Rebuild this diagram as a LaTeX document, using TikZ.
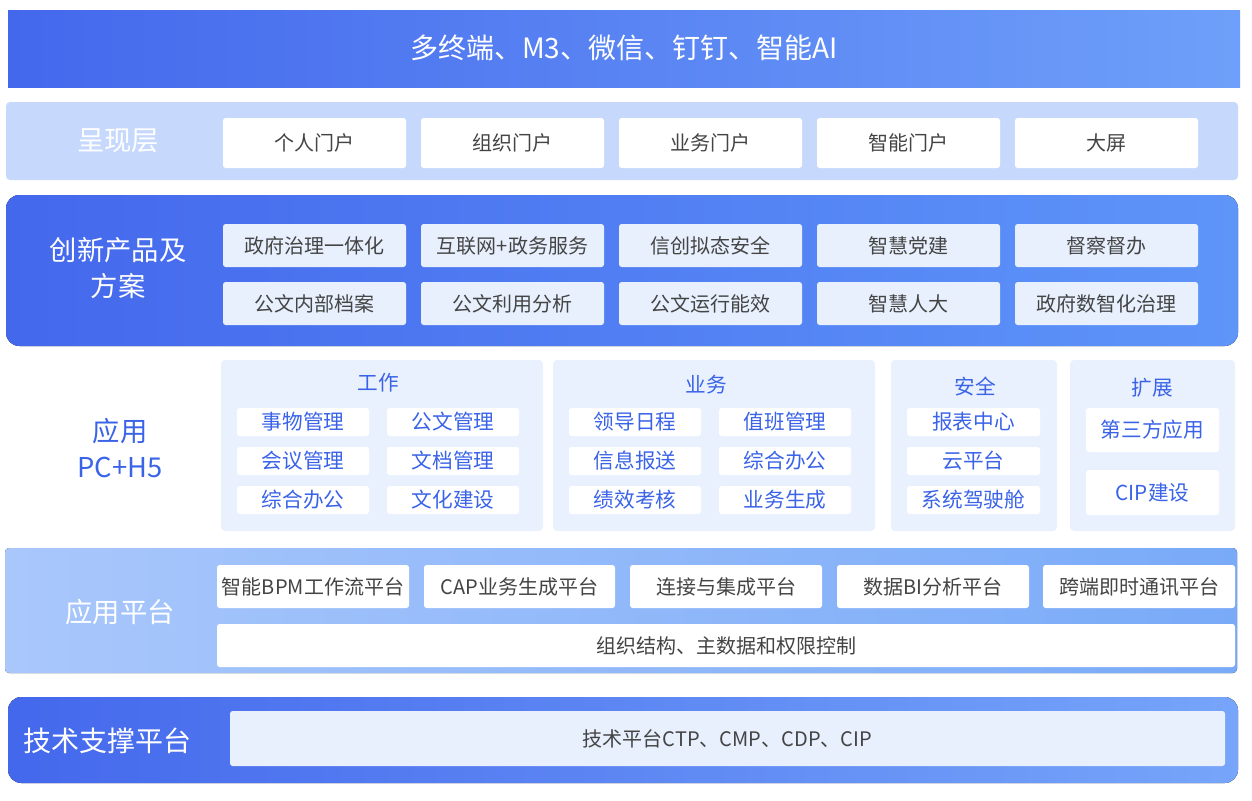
\documentclass[tikz,border=0pt]{standalone}
\usepackage{fontspec}
\setmainfont{Noto Sans CJK SC}
\definecolor{dblue}{HTML}{4468EC}
\definecolor{mblue}{HTML}{5E95F9}
\definecolor{pale}{HTML}{C6D9FC}
\definecolor{ibox}{HTML}{E8F0FE}
\definecolor{grp}{HTML}{EAF1FE}
\definecolor{atxt}{HTML}{3A63E8}
\definecolor{gtxt}{HTML}{444444}
\definecolor{apl}{HTML}{A9C7FB}
\definecolor{apr}{HTML}{79AAF8}
\newcommand{\bx}[6]{\node[#6, minimum width={(#3-#1)*0.75pt}, minimum height={(#4-#2)*0.75pt}] at ({(#1+#3)/2},{(#2+#4)/2}) {#5};}
\tikzset{
 wbox/.style={fill=white, rounded corners=2pt, inner sep=0pt, text=gtxt, font=\fontsize{15}{17}\selectfont},
 lbox/.style={fill=ibox, rounded corners=2pt, inner sep=0pt, text=gtxt, font=\fontsize{15}{17}\selectfont},
 abox/.style={fill=white, rounded corners=2pt, inner sep=0pt, text=atxt, font=\fontsize{15.5}{17}\selectfont},
 gbox/.style={fill=grp, rounded corners=3pt, inner sep=0pt},
 blab/.style={text=white, font=\fontsize{20.5}{27}\selectfont, align=center},
 gt/.style={text=atxt, font=\fontsize{15.5}{17}\selectfont},
}
\begin{document}
\begin{tikzpicture}[x=0.75pt,y=-0.75pt]
\useasboundingbox (0,0) rectangle (1252,800);
% top bar
\fill[left color=dblue, right color=mblue!90] (8,10) rectangle (1240,87);
\node[text=white, font=\fontsize{21}{24}\selectfont] (top) at (624,48) {多终端、M3、微信、钉钉、智能AI};
% presentation layer
\fill[pale, rounded corners=3pt] (6,102) rectangle (1238,180);
\node[blab] (l1) at (118,141) {呈现层};
\bx{223}{118}{406}{168}{个人门户}{wbox}
\bx{421}{118}{604}{168}{组织门户}{wbox}
\bx{619}{118}{802}{168}{业务门户}{wbox}
\bx{817}{118}{1000}{168}{智能门户}{wbox}
\bx{1015}{118}{1198}{168}{大屏}{wbox}
% innovation
\fill[left color=dblue, right color=mblue, rounded corners=10pt] (6,195) rectangle (1238,346);
\node[blab] (l2) at (118,268) {创新产品及\\方案};
\bx{223}{224}{406}{267}{政府治理一体化}{lbox}
\bx{421}{224}{604}{267}{互联网+政务服务}{lbox}
\bx{619}{224}{802}{267}{信创拟态安全}{lbox}
\bx{817}{224}{1000}{267}{智慧党建}{lbox}
\bx{1015}{224}{1198}{267}{督察督办}{lbox}
\bx{223}{282}{406}{325}{公文内部档案}{lbox}
\bx{421}{282}{604}{325}{公文利用分析}{lbox}
\bx{619}{282}{802}{325}{公文运行能效}{lbox}
\bx{817}{282}{1000}{325}{智慧人大}{lbox}
\bx{1015}{282}{1198}{325}{政府数智化治理}{lbox}
% applications
\node[text=atxt, font=\fontsize{20.5}{27}\selectfont, align=center] (l3) at (120,448) {应用\\PC+H5};
\bx{221}{360}{543}{531}{}{gbox}
\bx{553}{360}{875}{531}{}{gbox}
\bx{891}{360}{1057}{531}{}{gbox}
\bx{1070}{360}{1235}{531}{}{gbox}
\node[gt] (g1) at (378,383) {工作};
\node[gt] (g2) at (706,385) {业务};
\node[gt] (g3) at (975,386) {安全};
\node[gt] (g4) at (1152,388) {扩展};
\bx{237}{408}{369}{436}{事物管理}{abox}
\bx{387}{408}{519}{436}{公文管理}{abox}
\bx{237}{447}{369}{475}{会议管理}{abox}
\bx{387}{447}{519}{475}{文档管理}{abox}
\bx{237}{486}{369}{514}{综合办公}{abox}
\bx{387}{486}{519}{514}{文化建设}{abox}
\bx{569}{408}{701}{436}{领导日程}{abox}
\bx{719}{408}{851}{436}{值班管理}{abox}
\bx{569}{447}{701}{475}{信息报送}{abox}
\bx{719}{447}{851}{475}{综合办公}{abox}
\bx{569}{486}{701}{514}{绩效考核}{abox}
\bx{719}{486}{851}{514}{业务生成}{abox}
\bx{907}{408}{1040}{436}{报表中心}{abox}
\bx{907}{447}{1040}{475}{云平台}{abox}
\bx{907}{486}{1040}{514}{系统驾驶舱}{abox}
\bx{1086}{408}{1219}{452}{第三方应用}{abox}
\bx{1086}{470}{1219}{515}{CIP建设}{abox}
% application platform
\fill[left color=apl, right color=apr, rounded corners=3pt] (5,548) rectangle (1237,673);
\node[blab] (l4) at (120,612) {应用平台};
\bx{217}{565}{409}{608}{智能BPM工作流平台}{wbox}
\bx{424}{565}{615}{608}{CAP业务生成平台}{wbox}
\bx{630}{565}{822}{608}{连接与集成平台}{wbox}
\bx{837}{565}{1029}{608}{数据BI分析平台}{wbox}
\bx{1043}{565}{1235}{608}{跨端即时通讯平台}{wbox}
\bx{217}{624}{1235}{667}{组织结构、主数据和权限控制}{wbox}
% tech support
\fill[left color=dblue, right color=mblue!85!white, rounded corners=10pt] (8,697) rectangle (1238,783);
\node[text=white, font=\fontsize{21}{24}\selectfont] (l5) at (107,741) {技术支撑平台};
\bx{230}{711}{1225}{766}{技术平台CTP、CMP、CDP、CIP}{lbox}
\end{tikzpicture}
\end{document}
